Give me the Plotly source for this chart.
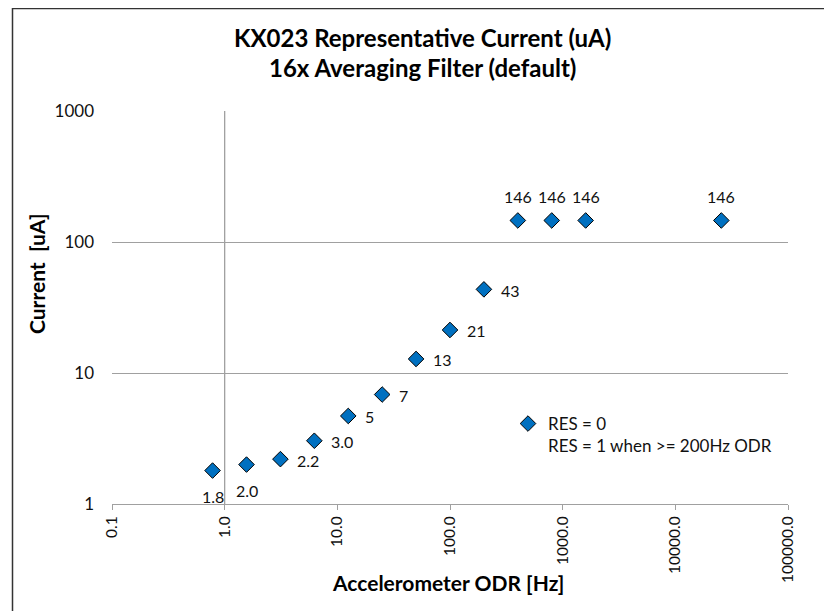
import math
import plotly.graph_objects as go

odr_hz = [0.781, 1.563, 3.125, 6.25, 12.5, 25, 50, 100, 200, 400, 800, 1600, 25600]
current_ua = [1.8, 2.0, 2.2, 3.04, 4.7, 6.85, 12.8, 21.3, 43.5, 146, 146, 146, 146]
point_labels = ["1.8", "2.0", "2.2", "3.0", "5", "7", "13", "21", "43", "146", "146", "146", "146"]
label_side = ["below", "below"] + ["right"] * 7 + ["above"] * 4
x_tickvals = [0.1, 1, 10, 100, 1000, 10000, 100000]
x_ticktext = ["0.1", "1.0", "10.0", "100.0", "1000.0", "10000.0", "100000.0"]
y_tickvals = [1, 10, 100, 1000]
y_ticktext = ["1", "10", "100", "1000"]

FONT = "Lato, 'Open Sans', sans-serif"
W, H = 832, 611
OFF = 8  # browser body margin
# plot area in window pixels
PX0, PX1, PY0, PY1 = 112, 788, 111, 504
L = PX0 - OFF
T = PY0 - OFF
R = W - (PX1 - OFF)
B = H - (PY1 - OFF)
pw, ph = PX1 - PX0, PY1 - PY0

def pxx(px):
    return (px - PX0) / pw

def pxy(py):
    return (PY1 - py) / ph

fig = go.Figure()
fig.add_trace(go.Scatter(
    x=odr_hz, y=current_ua, mode="markers",
    name="RES = 0<br>RES = 1 when >= 200Hz ODR",
    marker=dict(symbol="diamond", size=12, color="#0070C0",
                line=dict(color="#000", width=1)),
    cliponaxis=False,
))

for xv, yv, lab, side in zip(odr_hz, current_ua, point_labels, label_side):
    if side == "right":
        kw = dict(xanchor="left", yanchor="middle", xshift=15, yshift=-1)
    elif side == "below":
        kw = dict(xanchor="center", yanchor="middle", xshift=0, yshift=-26)
    else:
        kw = dict(xanchor="center", yanchor="middle", xshift=0, yshift=24)
    fig.add_annotation(x=math.log10(xv), y=math.log10(yv), xref="x", yref="y",
                       text=lab, showarrow=False,
                       font=dict(family=FONT, size=16, color="#111"), **kw)

fig.add_shape(type="line", xref="x", yref="paper", x0=1, x1=1, y0=0, y1=1,
              line=dict(color="#a0a0a0", width=1.3), layer="below")

# chart frame (left & top visible)
fig.add_shape(type="rect", xref="paper", yref="paper",
              x0=pxx(12.5), x1=pxx(845), y0=pxy(625), y1=pxy(8.5),
              line=dict(color="#333", width=1.5))

fig.add_annotation(xref="paper", yref="paper", x=pxx(422), y=pxy(37),
                   text="<b>KX023 Representative Current (uA)</b>", showarrow=False,
                   font=dict(family=FONT, size=24, color="#000"), xanchor="center", yanchor="middle")
fig.add_annotation(xref="paper", yref="paper", x=pxx(422), y=pxy(67),
                   text="<b>16x Averaging Filter (default)</b>", showarrow=False,
                   font=dict(family=FONT, size=24, color="#000"), xanchor="center", yanchor="middle")
fig.add_annotation(xref="paper", yref="paper", x=pxx(448), y=pxy(582),
                   text="<b>Accelerometer ODR [Hz]</b>", showarrow=False,
                   font=dict(family=FONT, size=21, color="#000"), xanchor="center", yanchor="middle")
fig.add_annotation(xref="paper", yref="paper", x=pxx(36), y=pxy(274),
                   text="<b>Current  [uA]</b>", showarrow=False, textangle=-90,
                   font=dict(family=FONT, size=21, color="#000"), xanchor="center", yanchor="middle")

fig.update_layout(
    width=W, height=H,
    margin=dict(l=L, r=R, t=T, b=B),
    paper_bgcolor="white", plot_bgcolor="white",
    font=dict(family=FONT, color="#111"),
    showlegend=True,
    legend=dict(x=pxx(508), y=pxy(406), xanchor="left", yanchor="top",
                bgcolor="rgba(0,0,0,0)", font=dict(family=FONT, size=17, color="#111"),
                valign="top", itemwidth=30),
    xaxis=dict(type="log", range=[-1, 5], tickvals=x_tickvals, ticktext=x_ticktext,
               tickangle=-90, showgrid=False, zeroline=False,
               showline=True, linecolor="#a0a0a0", linewidth=1.3,
               ticks="outside", ticklen=5, tickcolor="#a0a0a0",
               tickfont=dict(family=FONT, size=15.5, color="#111")),
    yaxis=dict(type="log", range=[0, 3], tickvals=y_tickvals, ticktext=y_ticktext,
               showgrid=True, gridcolor="#a0a0a0", gridwidth=1.3, zeroline=False,
               showline=False, ticks="", ticklen=0, ticklabelstandoff=17,
               tickfont=dict(family=FONT, size=17, color="#111")),
)

fig.write_html("out.html")
